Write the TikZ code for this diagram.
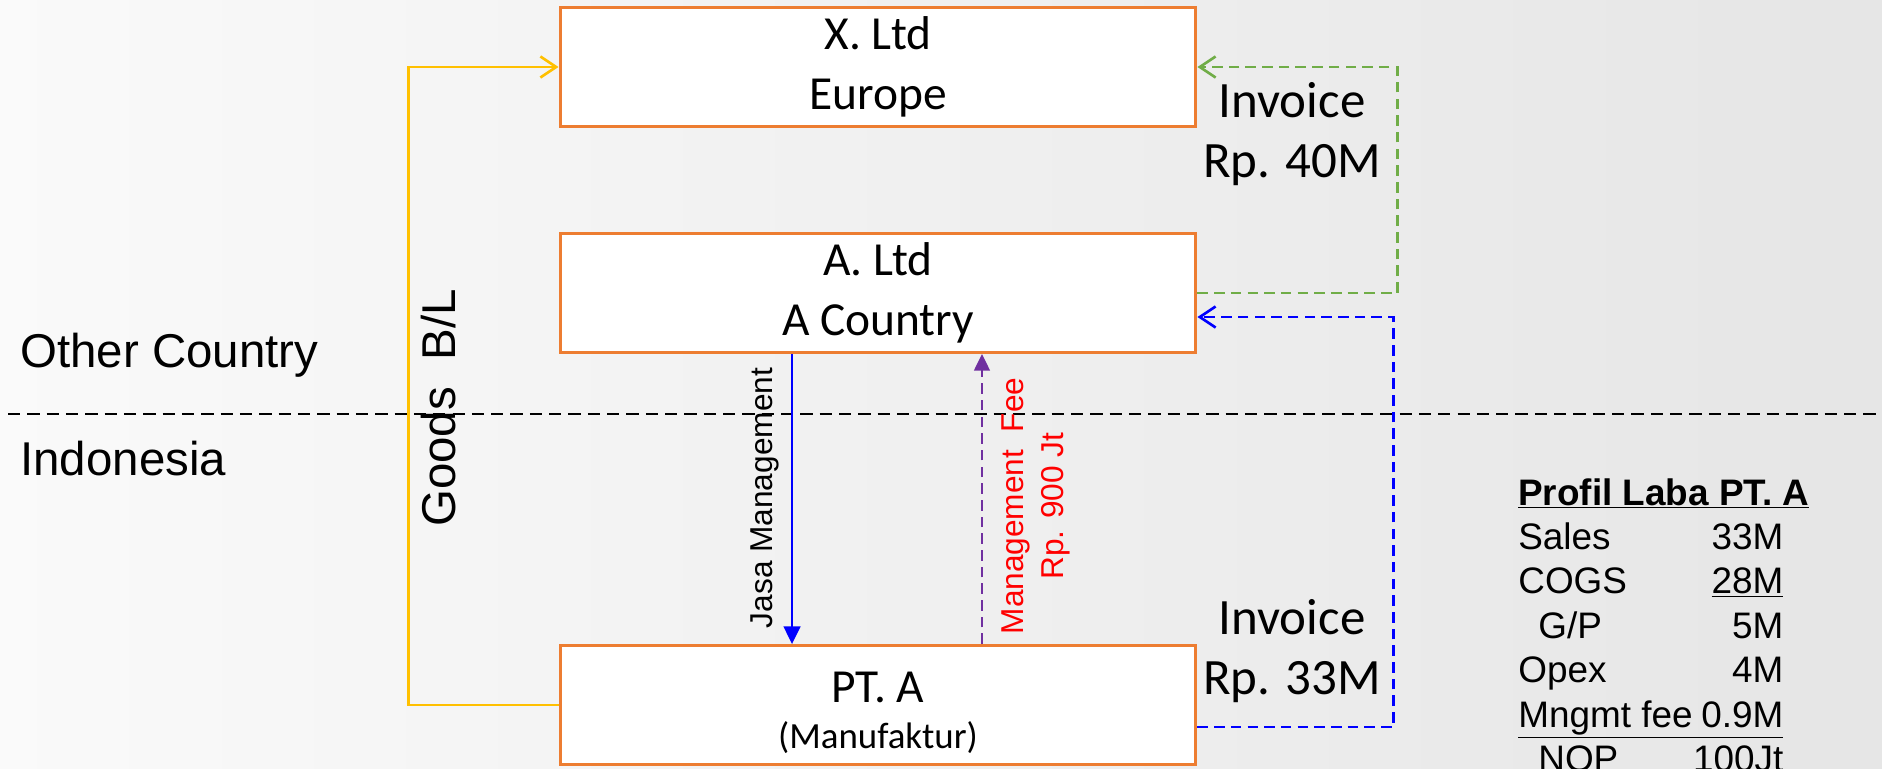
\documentclass[tikz,border=0pt]{standalone}
\usepackage{fontspec}
\setmainfont{Liberation Sans}
\newfontfamily\calibri{Carlito}
\usetikzlibrary{arrows.meta}
\definecolor{boxorange}{RGB}{237,125,49}
\definecolor{goodsyellow}{RGB}{255,192,0}
\definecolor{invgreen}{RGB}{112,173,71}
\definecolor{feepurple}{RGB}{112,48,160}

\begin{document}
\begin{tikzpicture}[x=0.02cm,y=-0.02cm]
\tikzset{firm/.style = {shape=rectangle,draw=boxorange,fill=white,line width=1.7pt,minimum width=12.72cm,minimum height=2.38cm,inner sep=0pt,align=center,font=\calibri\fontsize{27}{34}\selectfont}}
\tikzset{region/.style = {anchor=base west,inner sep=0pt,font=\fontsize{27}{32}\selectfont}}
\tikzset{amount/.style = {align=center,inner sep=0pt,font=\calibri\fontsize{29}{34}\selectfont}}
\tikzset{flow/.style = {line width=1.5pt,dash pattern=on 6pt off 3.5pt,-{Straight Barb[length=9pt,width=12pt]}}}
\tikzset{goods/.style = {draw=goodsyellow,line width=1.5pt,-{Straight Barb[length=9pt,width=12pt]}}}
\tikzset{jasa/.style = {draw=blue,line width=1.2pt,-{Triangle[length=10pt,width=9.5pt]}}}
\tikzset{fee/.style = {draw=feepurple,line width=1.2pt,dash pattern=on 6pt off 3.5pt,-{Triangle[length=9.5pt,width=9pt]}}}
\useasboundingbox (0,0) rectangle (1882,768);
\shade[left color=black!2,right color=black!10] (0,0) rectangle (1882,768);
% border
\coordinate (bl) at (8,414);
\coordinate (br) at (1882,414);
\draw[black,line width=1.3pt,dash pattern=on 7pt off 4pt] (bl) -- (br);
\node[region] (other) at (20,367) {Other Country};
\node[region] (indo) at (20,475) {Indonesia};
% firms
\node[firm] (xltd) at (878,67) {X. Ltd\\Europe};
\node[firm] (altd) at (878,293) {A. Ltd\\A Country};
\node[firm] (pta) at (878,705) {\rule{0pt}{26pt}PT. A\\[-8pt]{\fontsize{21}{26}\selectfont (Manufaktur)}};
% flows
\draw[goods] (pta.west) -- ++(-150,0) |- (xltd.west);
\draw[flow,invgreen] (altd.east) -- ++(200,0) |- (xltd.east);
\draw[flow,blue] ([yshift=-0.44cm]pta.east) -- ++(196,0) |- ([yshift=-0.48cm]altd.east);
\draw[jasa] ([xshift=-1.72cm]altd.south) -- ([xshift=-1.72cm]pta.north);
\draw[fee] ([xshift=2.08cm]pta.north) -- ([xshift=2.08cm]altd.south);
% labels
\node[region,anchor=base,rotate=90] (goodslbl) at (455,408) {Goods\ \ B/L};
\node[anchor=base,rotate=90,inner sep=0pt,font=\fontsize{18}{22}\selectfont] (jasalbl) at (772,498) {Jasa Management};
\node[red,rotate=90,align=center,inner sep=0pt,font=\fontsize{18}{22.8}\selectfont] (feelbl) at (1036,506) {Management\ \ Fee\\Rp. 900 Jt};
\node[amount] (inv40) at (1292,134) {Invoice\\Rp. 40M};
\node[amount] (inv33) at (1292,651) {Invoice\\Rp. 33M};
% profit table
\node[anchor=base west,inner sep=0pt,font=\fontsize{21}{25.3}\selectfont] (profit) at (1518,505) {%
\begin{tabular*}{5.3cm}[t]{@{}l@{\extracolsep{\fill}}r@{}}
\multicolumn{2}{@{}l@{}}{\rlap{\bfseries\underline{Profil Laba PT. A}}}\\
Sales & 33M\\
COGS & \underline{28M}\\
\hspace{0.4cm}G/P & 5M\\
Opex & 4M\\
\multicolumn{2}{@{}l@{}}{\underline{\makebox[5.3cm]{Mngmt fee\hfill 0.9M}}}\\
\hspace{0.4cm}NOP & 100Jt
\end{tabular*}};
\end{tikzpicture}
\end{document}
